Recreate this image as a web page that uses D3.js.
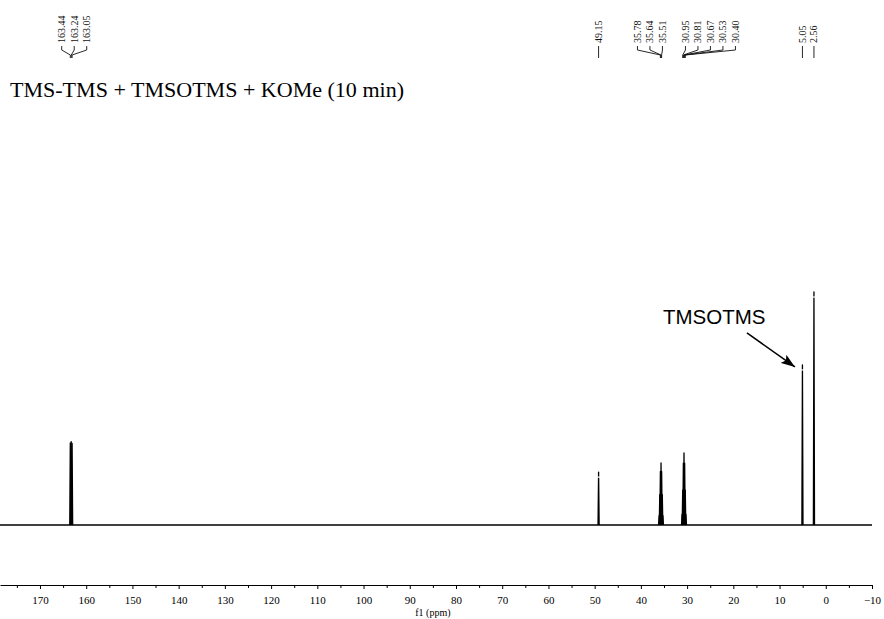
<!DOCTYPE html>
<html>
<head>
<meta charset="utf-8">
<script src="https://cdn.jsdelivr.net/npm/d3@7"></script>
<style>
  html, body { margin: 0; padding: 0; background: #fff; }
  svg { display: block; }
</style>
</head>
<body>
<svg id="chart" width="884" height="619"></svg>
<script>
// 13C spectrum: labelled peak lines (ppm) and their intensities
const peakPpm    = [163.44, 163.24, 163.05, 49.15, 35.78, 35.64, 35.51, 30.95, 30.81, 30.67, 30.53, 30.40, 5.05, 2.56];
const peakHeight = [35.2,   35.8,   35.0,   22.7,  23.0,  26.6,  23.0,  15.0,  26.5,  30.9,  26.5,  15.0,  68.7, 100];

// weaker outer lines of the solvent multiplets (not labelled)
const minorPpm    = [36.05, 35.91, 35.37, 35.24, 31.09, 30.26];
const minorHeight = [4.0,   13.0,  13.0,  4.0,   4.5,   4.5];

// peak-label groups, as printed above the spectrum
const labelGroups = [
  [163.44, 163.24, 163.05],
  [49.15],
  [35.78, 35.64, 35.51],
  [30.95, 30.81, 30.67, 30.53, 30.40],
  [5.05],
  [2.56]
];

// axis ticks
const majorTicks = [170, 160, 150, 140, 130, 120, 110, 100, 90, 80, 70, 60, 50, 40, 30, 20, 10, 0, -10];
const minorTicks = [175, 165, 155, 145, 135, 125, 115, 105, 95, 85, 75, 65, 55, 45, 35, 25, 15, 5, -5];

const titleText = "TMS-TMS + TMSOTMS + KOMe (10 min)";
const axisTitle = "f1 (ppm)";
const annotation = { text: "TMSOTMS", ppm: 5.05 };

const svg = d3.select("#chart");
const serif = "'Liberation Serif', 'Times New Roman', Times, serif";
const sans = "'Liberation Sans', Arial, Helvetica, sans-serif";

const x = d3.scaleLinear().domain([178.65, -10]).range([0, 872]);
const y = d3.scaleLinear().domain([0, 100]).range([525, 292]);
const axisY = 585;

// title
svg.append("text")
  .attr("x", 10).attr("y", 97)
  .attr("font-family", serif).attr("font-size", 21)
  .attr("textLength", 394).attr("lengthAdjust", "spacingAndGlyphs")
  .attr("fill", "#000")
  .text(titleText);

// baseline of the spectrum
svg.append("path")
  .datum(x.domain().map(v => [v, 0]))
  .attr("d", d3.line().x(d => x(d[0])).y(d => y(d[1])))
  .attr("stroke", "#000").attr("stroke-width", 1.7).attr("fill", "none");

// peak lines
const halfBase = 0.12;
const peakLine = d3.line().x(d => x(d[0])).y(d => y(d[1]));
const allPeaks = peakPpm.map((p, i) => ({ ppm: p, h: peakHeight[i] }))
  .concat(minorPpm.map((p, i) => ({ ppm: p, h: minorHeight[i] })));
svg.append("g").selectAll("path")
  .data(allPeaks)
  .join("path")
  .attr("d", d => peakLine([[d.ppm + halfBase, 0], [d.ppm, d.h], [d.ppm - halfBase, 0]]))
  .attr("stroke", "#000").attr("stroke-width", 1.3)
  .attr("stroke-linejoin", "round").attr("fill", "none");

// small break just under the apex of the isolated lines
const singles = labelGroups.filter(g => g.length === 1).map(g => g[0]);
svg.append("g").selectAll("line")
  .data(singles)
  .join("line")
  .attr("x1", d => x(d) - 2).attr("x2", d => x(d) + 2)
  .attr("y1", d => y(peakHeight[peakPpm.indexOf(d)]) + 5)
  .attr("y2", d => y(peakHeight[peakPpm.indexOf(d)]) + 5)
  .attr("stroke", "#fff").attr("stroke-width", 1.2);

// x axis with major (labelled) and minor ticks
const axisG = svg.append("g").attr("transform", `translate(0,${axisY})`);
axisG.call(d3.axisBottom(x).tickValues(majorTicks).tickSize(4).tickSizeOuter(0).tickPadding(7)
  .tickFormat(d3.format("d")));
axisG.append("g").call(d3.axisBottom(x).tickValues(minorTicks).tickSize(3).tickSizeOuter(0).tickFormat(""))
  .select(".domain").remove();
axisG.selectAll("text").attr("font-family", serif).attr("font-size", 11).attr("fill", "#000");
axisG.selectAll("line, path").attr("stroke", "#000");

svg.append("text")
  .attr("x", x(85)).attr("y", 616)
  .attr("text-anchor", "middle")
  .attr("font-family", serif).attr("font-size", 10)
  .attr("fill", "#000")
  .text(axisTitle);

// peak labels: spread each group around its peaks, push overlapping groups apart
const spacing = 12.5;
const groups = labelGroups.map(ppms => {
  const px = ppms.map(p => x(p));
  return { ppms, px, center: d3.mean(px), n: ppms.length };
});
for (let i = 0; i < groups.length - 1; i++) {
  const a = groups[i], b = groups[i + 1];
  const gap = (a.n > 1 || b.n > 1) ? 23 : 11;
  const aRight = a.center + (a.n - 1) * spacing / 2;
  const bLeft = b.center - (b.n - 1) * spacing / 2;
  const overlap = aRight + gap - bLeft;
  if (overlap > 0) {
    a.center -= overlap * a.n / (a.n + b.n);
    b.center += overlap * b.n / (a.n + b.n);
  }
}
const labels = [];
groups.forEach(g => {
  g.ppms.forEach((p, i) => {
    labels.push({ ppm: p, px: g.px[i], lx: g.center + 3 + (i - (g.n - 1) / 2) * spacing });
  });
});
// single labels sit straight above their line
labels.forEach(d => { if (singles.includes(d.ppm)) d.lx = d.px; });

const lab = svg.append("g");
lab.selectAll("text")
  .data(labels)
  .join("text")
  .attr("transform", d => `translate(${d.lx + 3.5},43) rotate(-90)`)
  .attr("font-family", serif).attr("font-size", 10)
  .attr("fill", "#111")
  .text(d => d.ppm.toFixed(2));
lab.selectAll("path")
  .data(labels)
  .join("path")
  .attr("d", d => `M${d.lx},46 L${d.lx},50 L${d.px},55 L${d.px},58`)
  .attr("stroke", "#111").attr("stroke-width", 0.9).attr("fill", "none");

// annotation pointing at the siloxane line
const aIdx = peakPpm.indexOf(annotation.ppm);
const tipX = x(annotation.ppm) - 7.5, tipY = y(peakHeight[aIdx]) + 2;
const startX = tipX - 48, startY = tipY - 34;
svg.append("defs").append("marker")
  .attr("id", "arrowhead")
  .attr("viewBox", "0 0 14 10").attr("refX", 14).attr("refY", 5)
  .attr("markerWidth", 14).attr("markerHeight", 10)
  .attr("markerUnits", "userSpaceOnUse")
  .attr("orient", "auto")
  .append("path").attr("d", "M0,0 L14,5 L0,10 L3,5 Z").attr("fill", "#000");
svg.append("line")
  .attr("x1", startX).attr("y1", startY).attr("x2", tipX).attr("y2", tipY)
  .attr("stroke", "#000").attr("stroke-width", 1.5)
  .attr("marker-end", "url(#arrowhead)");
svg.append("text")
  .attr("x", tipX - 132).attr("y", tipY - 43)
  .attr("font-family", sans).attr("font-size", 20.5)
  .attr("fill", "#000")
  .text(annotation.text);
</script>
</body>
</html>
